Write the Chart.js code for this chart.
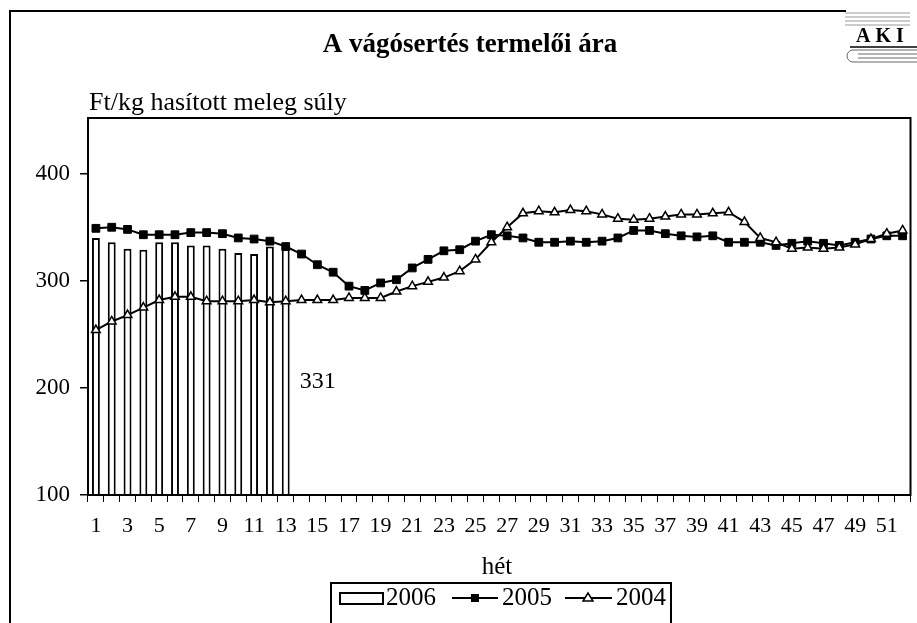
<!DOCTYPE html>
<html>
<head>
<meta charset="utf-8">
<script src="https://cdn.jsdelivr.net/npm/chart.js@4.4.0/dist/chart.umd.min.js"></script>
<style>
  html, body { margin: 0; padding: 0; background: #fff; }
  #wrap { width: 917px; height: 623px; position: relative; }
</style>
</head>
<body>
<div id="wrap"><canvas id="chart"></canvas></div>
<script>
const titleText = 'A vágósertés termelői ára';
const unitText = 'Ft/kg hasított meleg súly';
const axisTitle = 'hét';

const weeks = [1, 2, 3, 4, 5, 6, 7, 8, 9, 10, 11, 12, 13, 14, 15, 16, 17, 18, 19, 20,
  21, 22, 23, 24, 25, 26, 27, 28, 29, 30, 31, 32, 33, 34, 35, 36, 37, 38, 39, 40,
  41, 42, 43, 44, 45, 46, 47, 48, 49, 50, 51, 52];

const price2006 = [340, 336, 330, 329, 336, 336, 333, 333, 330, 326, 325, 332, 331];

const price2005 = [349, 350, 348, 343, 343, 343, 345, 345, 344, 340, 339, 337, 332,
  325, 315, 308, 295, 291, 298, 301, 312, 320, 328, 329, 337, 343,
  342, 340, 336, 336, 337, 336, 337, 340, 347, 347, 344, 342, 341, 342, 336, 336,
  336, 333, 335, 337, 335, 333, 336, 339, 342, 342];

const price2004 = [254, 262, 268, 275, 282, 285, 285, 281, 281, 281, 282, 280, 281,
  282, 282, 282, 284, 284, 284, 290, 295, 299, 303, 309, 320, 336,
  350, 363, 365, 364, 366, 365, 362, 358, 357, 358, 360, 362, 362, 363, 364, 355,
  340, 336, 330, 331, 330, 331, 334, 339, 344, 347];

const yTicks = [100, 200, 300, 400];
const lastLabel = '331';

const serif = '"Liberation Serif", "Times New Roman", serif';

// title, frame, legend, logo and the one data label
const decor = {
    id: 'decor',
    afterDraw(chart) {
        const ctx = chart.ctx;
        const a = chart.chartArea;
        ctx.save();
        ctx.strokeStyle = '#000';
        ctx.fillStyle = '#000';
        ctx.lineWidth = 2;

        ctx.strokeRect(a.left, a.top, a.right - a.left, a.bottom - a.top);

        ctx.beginPath();
        ctx.moveTo(10, 630);
        ctx.lineTo(10, 11);
        ctx.lineTo(846, 11);
        ctx.stroke();

        ctx.textBaseline = 'middle';
        ctx.textAlign = 'center';
        ctx.font = 'bold 27px ' + serif;
        ctx.fillText(titleText, 470, 45);

        ctx.textAlign = 'left';
        ctx.font = '26px ' + serif;
        ctx.fillText(unitText, 89, 103);

        ctx.font = '25px ' + serif;
        ctx.textAlign = 'center';
        ctx.fillText(axisTitle, 497, 567);

        // value label next to last 2006 bar
        const meta = chart.getDatasetMeta(0);
        const bar = meta.data[price2006.length - 1];
        const ys = chart.scales.y;
        ctx.textAlign = 'left';
        ctx.font = '24px ' + serif;
        ctx.fillText(lastLabel, bar.x + bar.width / 2 + 10, ys.getPixelForValue(206));

        drawLegend(ctx, chart);
        drawLogo(ctx);
        ctx.restore();
    }
};

function drawLegend(ctx, chart) {
    const ds = chart.data.datasets;
    const cy = 598;
    ctx.fillStyle = '#fff';
    ctx.fillRect(331, 583, 340, 50);
    ctx.strokeStyle = '#000';
    ctx.lineWidth = 2;
    ctx.strokeRect(331, 583, 340, 50);

    ctx.fillStyle = '#000';
    ctx.font = '25px ' + serif;
    ctx.textAlign = 'left';
    ctx.textBaseline = 'middle';

    ctx.strokeRect(340, 593, 43, 11);
    ctx.fillText(ds[0].label, 386, cy);

    ctx.beginPath();
    ctx.moveTo(452, cy); ctx.lineTo(498, cy);
    ctx.stroke();
    ctx.fillRect(471, cy - 4, 8, 8);
    ctx.fillText(ds[1].label, 502, cy);

    ctx.beginPath();
    ctx.moveTo(565, cy); ctx.lineTo(612, cy);
    ctx.stroke();
    ctx.beginPath();
    ctx.moveTo(588, cy - 5); ctx.lineTo(593, cy + 3); ctx.lineTo(583, cy + 3); ctx.closePath();
    ctx.fillStyle = '#fff';
    ctx.fill();
    ctx.lineWidth = 1.5;
    ctx.stroke();
    ctx.fillStyle = '#000';
    ctx.fillText(ds[2].label, 616, cy);
}

function drawLogo(ctx) {
    ctx.strokeStyle = '#999';
    ctx.lineWidth = 1;
    for (let i = 0; i < 4; i++) {
        ctx.beginPath();
        ctx.moveTo(845, 13 + i * 4);
        ctx.lineTo(910, 13 + i * 4);
        ctx.stroke();
    }
    ctx.font = 'bold 20px ' + serif;
    ctx.fillStyle = '#000';
    ctx.textAlign = 'center';
    ctx.textBaseline = 'middle';
    ctx.fillText('A K I', 880, 37);
    ctx.strokeStyle = '#000';
    ctx.lineWidth = 1.5;
    ctx.beginPath();
    ctx.moveTo(850, 47); ctx.lineTo(917, 47);
    ctx.stroke();
    ctx.strokeStyle = '#666';
    ctx.lineWidth = 1;
    ctx.beginPath();
    ctx.moveTo(917, 50);
    ctx.lineTo(853, 50);
    ctx.arc(853, 56, 6, -Math.PI / 2, Math.PI / 2, true);
    ctx.lineTo(917, 62);
    ctx.stroke();
    ctx.beginPath();
    ctx.moveTo(858, 54); ctx.lineTo(917, 54);
    ctx.moveTo(858, 58); ctx.lineTo(917, 58);
    ctx.stroke();
}

new Chart(document.getElementById('chart'), {
    data: {
        labels: weeks,
        datasets: [
            {
                type: 'bar',
                label: '2006',
                data: price2006,
                backgroundColor: '#fff',
                borderColor: '#000',
                borderWidth: 2,
                barPercentage: 0.5,
                categoryPercentage: 1,
                order: 3
            },
            {
                type: 'line',
                label: '2005',
                data: price2005,
                borderColor: '#000',
                borderWidth: 2,
                tension: 0,
                pointStyle: 'rect',
                pointRadius: 5.5,
                pointBackgroundColor: '#000',
                pointBorderColor: '#000',
                pointBorderWidth: 1,
                order: 2
            },
            {
                type: 'line',
                label: '2004',
                data: price2004,
                borderColor: '#000',
                borderWidth: 2,
                tension: 0,
                pointStyle: 'triangle',
                pointRadius: 5,
                pointBackgroundColor: '#fff',
                pointBorderColor: '#000',
                pointBorderWidth: 1.5,
                order: 1
            }
        ]
    },
    options: {
        responsive: true,
        maintainAspectRatio: false,
        animation: false,
        layout: { padding: { left: 0, top: 118, right: 6, bottom: 0 } },
        plugins: {
            legend: { display: false },
            title: { display: false },
            tooltip: { enabled: false }
        },
        scales: {
            x: {
                type: 'category',
                offset: true,
                grid: { offset: true, drawOnChartArea: false, drawTicks: true, tickLength: 7, color: '#000', lineWidth: 1 },
                border: { display: true, color: '#000', width: 2 },
                ticks: {
                    autoSkip: false,
                    maxRotation: 0,
                    padding: 11,
                    color: '#000',
                    font: { family: serif, size: 22 },
                    callback: (v, i) => (i % 2 === 0 ? weeks[i] : '')
                },
                afterFit: s => { s.height = 128; }
            },
            y: {
                min: 100,
                max: 452,
                afterBuildTicks: s => { s.ticks = yTicks.map(v => ({ value: v })); },
                grid: { drawOnChartArea: false, drawTicks: true, tickLength: 8, color: '#000', lineWidth: 1.5 },
                border: { display: true, color: '#000', width: 2 },
                ticks: {
                    padding: 10,
                    color: '#000',
                    font: { family: serif, size: 23 }
                },
                afterFit: s => { s.width = 88; }
            }
        }
    },
    plugins: [decor]
});
</script>
</body>
</html>
